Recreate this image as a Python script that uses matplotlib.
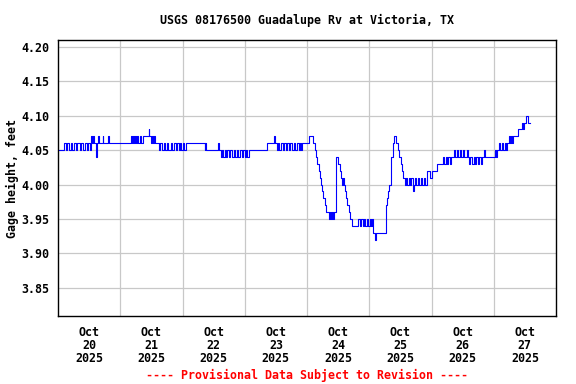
import matplotlib
matplotlib.use('Agg')
import matplotlib.pyplot as plt

# hours since 2025-10-20 00:00 CDT, gage height in feet (step changes)
hours = [
    0.0, 2.4, 3.0, 3.6, 4.2, 5.0, 5.5, 6.3, 7.0, 7.5, 8.5, 9.0, 9.8, 10.3, 11.0, 11.5,
    12.2, 12.7, 13.0, 13.5, 13.8, 14.6, 14.8, 15.1, 15.6, 15.9, 17.2, 17.5, 19.2, 19.5,
    28.2, 28.5, 29.0, 29.3, 29.6, 30.0, 30.5, 31.0, 31.5, 32.0, 32.8, 34.9, 35.2, 35.8,
    36.2, 36.6, 37.0, 37.4, 39.0, 39.5, 40.0, 40.8, 41.3, 42.0, 42.5, 43.5, 44.0, 44.8,
    45.4, 46.0, 46.5, 47.2, 47.6, 48.0, 48.5, 49.3, 56.5, 56.8, 57.0, 61.7, 62.2, 62.8,
    63.2, 63.6, 64.2, 64.6, 65.3, 65.8, 66.5, 67.0, 67.8, 68.3, 69.0, 69.5, 70.3, 70.8,
    71.5, 72.0, 72.6, 73.0, 73.5, 80.6, 83.2, 83.6, 84.3, 84.7, 85.3, 85.8, 86.6, 87.0,
    87.8, 88.3, 89.0, 89.5, 90.3, 90.8, 91.5, 92.0, 92.8, 93.3, 93.8, 94.1, 96.8, 98.3,
    99.1, 99.5, 100.0, 100.5, 100.9, 101.3, 101.8, 102.2, 102.8, 103.5, 104.5, 104.9,
    105.3, 105.7, 106.1, 106.5, 107.0, 107.3, 108.1, 108.7, 109.2, 109.6, 109.9, 110.2,
    110.5, 111.0, 111.5, 112.0, 112.6, 113.4, 115.8, 116.3, 116.9, 117.4, 118.0, 118.5,
    119.2, 119.7, 120.3, 120.8, 121.2, 121.6, 122.4, 122.7, 126.3, 126.8, 127.2, 127.8,
    128.2, 128.5, 129.0, 129.5, 130.4, 130.9, 131.5, 132.1, 132.7, 133.2, 133.7, 134.3,
    134.7, 135.2, 135.6, 136.2, 136.7, 137.1, 137.7, 138.2, 138.8, 139.3, 139.9, 140.4,
    141.0, 141.6, 142.1, 143.6, 144.1, 146.0, 148.5, 148.9, 149.4, 149.9, 150.5, 151.0,
    151.6, 152.7, 153.1, 153.8, 154.2, 155.1, 155.5, 156.3, 156.7, 157.6, 158.0, 158.6,
    159.0, 159.8, 160.2, 160.9, 161.3, 162.1, 162.5, 163.2, 163.6, 164.2, 164.6, 168.5,
    168.9, 169.3, 170.0, 170.5, 171.0, 171.7, 172.2, 172.8, 173.3, 173.8, 174.2, 174.7,
    175.0, 175.5, 177.4, 178.8, 179.2, 179.7, 180.4, 181.3, 182.0,
]
gage_ft = [
    4.05, 4.06, 4.05, 4.06, 4.05, 4.06, 4.05, 4.06, 4.05, 4.06, 4.05, 4.06, 4.05, 4.06, 4.05, 4.06,
    4.05, 4.07, 4.06, 4.07, 4.06, 4.05, 4.04, 4.06, 4.07, 4.06, 4.07, 4.06, 4.07, 4.06,
    4.07, 4.06, 4.07, 4.06, 4.07, 4.06, 4.07, 4.06, 4.07, 4.06, 4.07, 4.08, 4.07, 4.06,
    4.07, 4.06, 4.07, 4.06, 4.05, 4.06, 4.05, 4.06, 4.05, 4.06, 4.05, 4.06, 4.05, 4.06,
    4.05, 4.06, 4.05, 4.06, 4.05, 4.06, 4.05, 4.06, 4.05, 4.06, 4.05, 4.06, 4.05, 4.04,
    4.05, 4.04, 4.05, 4.04, 4.05, 4.04, 4.05, 4.04, 4.05, 4.04, 4.05, 4.04, 4.05, 4.04,
    4.05, 4.04, 4.05, 4.04, 4.05, 4.06, 4.07, 4.06, 4.05, 4.06, 4.05, 4.06, 4.05, 4.06,
    4.05, 4.06, 4.05, 4.06, 4.05, 4.06, 4.05, 4.06, 4.05, 4.06, 4.05, 4.06, 4.07, 4.06,
    4.05, 4.04, 4.03, 4.02, 4.01, 4.00, 3.99, 3.98, 3.97, 3.96, 3.95, 3.96,
    3.95, 3.96, 3.95, 3.96, 4.03, 4.04, 4.03, 4.02, 4.01, 4.00, 4.01, 4.00,
    3.99, 3.98, 3.97, 3.96, 3.95, 3.94, 3.95, 3.94, 3.95, 3.94, 3.95, 3.94,
    3.95, 3.94, 3.95, 3.94, 3.95, 3.93, 3.92, 3.93, 3.97, 3.98, 3.99, 4.00,
    4.01, 4.04, 4.06, 4.07, 4.06, 4.05, 4.04, 4.03, 4.02, 4.01, 4.00, 4.01,
    4.00, 4.01, 4.00, 4.01, 3.99, 4.00, 4.01, 4.00, 4.01, 4.00, 4.01, 4.00,
    4.01, 4.00, 4.02, 4.01, 4.02, 4.03, 4.04, 4.03, 4.04, 4.03, 4.04, 4.03,
    4.04, 4.05, 4.04, 4.05, 4.04, 4.05, 4.04, 4.05, 4.04, 4.05, 4.04, 4.03,
    4.04, 4.03, 4.04, 4.03, 4.04, 4.03, 4.04, 4.03, 4.04, 4.05, 4.04, 4.05,
    4.04, 4.05, 4.06, 4.05, 4.06, 4.05, 4.06, 4.05, 4.06, 4.07, 4.06, 4.07,
    4.06, 4.07, 4.08, 4.09, 4.08, 4.09, 4.10, 4.09, 4.09,
]

day_labels = ['Oct\n20\n2025', 'Oct\n21\n2025', 'Oct\n22\n2025', 'Oct\n23\n2025',
              'Oct\n24\n2025', 'Oct\n25\n2025', 'Oct\n26\n2025', 'Oct\n27\n2025']
y_ticks = [3.85, 3.90, 3.95, 4.00, 4.05, 4.10, 4.15, 4.20]

mono = 'DejaVu Sans Mono'
fs = 8.4

fig = plt.figure(figsize=(5.76, 3.84), dpi=100)
ax = fig.add_axes([58 / 576, 68 / 384, 498 / 576, 276 / 384])

ax.plot(hours, gage_ft, color='#0000ff', lw=0.8, drawstyle='steps-post')

ax.set_xlim(0, 192)
ax.set_ylim(3.809, 4.21)

ax.set_xticks([12 + 24 * i for i in range(8)])
ax.set_xticklabels(day_labels, fontfamily=mono, fontweight='bold', fontsize=fs,
                   linespacing=0.98)
ax.set_xticks([24 * i for i in range(1, 8)], minor=True)
ax.set_yticks(y_ticks)
ax.set_yticklabels([f'{v:.2f}' for v in y_ticks], fontfamily=mono,
                   fontweight='bold', fontsize=fs)
ax.tick_params(axis='both', which='both', length=0)
ax.tick_params(axis='x', pad=7.5)
ax.tick_params(axis='y', pad=6)

ax.grid(True, axis='y', which='major', color='#c8c8c8', lw=0.9)
ax.grid(True, axis='x', which='minor', color='#c8c8c8', lw=0.9)
ax.set_axisbelow(True)
for s in ax.spines.values():
    s.set_linewidth(1.0)
    s.set_color('black')

ax.set_ylabel('Gage height, feet', fontfamily=mono, fontweight='bold', fontsize=fs,
              labelpad=2)

fig.text(307 / 576, 1 - 20 / 384, 'USGS 08176500 Guadalupe Rv at Victoria, TX',
         ha='center', va='center', fontfamily=mono, fontweight='bold', fontsize=fs)
fig.text(307 / 576, 1 - 375 / 384, '---- Provisional Data Subject to Revision ----',
         ha='center', va='center', fontfamily=mono, fontweight='bold', fontsize=fs,
         color='red')

fig.savefig('out.png', dpi=100)
